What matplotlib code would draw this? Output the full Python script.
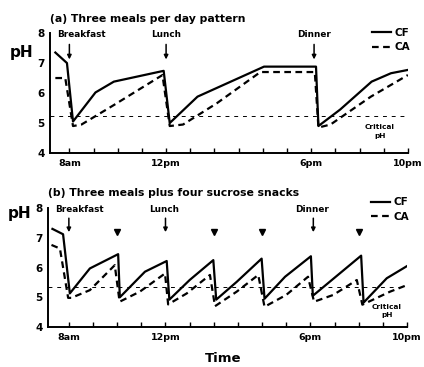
import numpy as np
import matplotlib
matplotlib.use("Agg")
import matplotlib.pyplot as plt

# (a) three meals per day
cf_a_hours = [7.42, 7.9, 8.15, 9.08, 9.84, 11.9, 12.15, 13.3, 16.05, 18.2, 18.3, 19.2, 20.5, 21.3, 22.0]
cf_a_ph = [7.35, 7.0, 5.05, 6.02, 6.38, 6.74, 5.0, 5.88, 6.88, 6.88, 4.9, 5.45, 6.38, 6.66, 6.77]
ca_a_hours = [7.42, 7.83, 8.15, 8.5, 9.84, 11.85, 12.15, 12.7, 14.1, 15.9, 18.15, 18.3, 18.8, 20.47, 22.0]
ca_a_ph = [6.5, 6.5, 4.9, 4.95, 5.6, 6.6, 4.9, 4.95, 5.66, 6.7, 6.7, 4.85, 4.95, 5.88, 6.6]
critical_a = 5.25

# (b) three meals plus four sucrose snacks
cf_b_hours = [7.32, 7.76, 8.04, 8.87, 10.04, 10.11, 11.15, 12.05, 12.16, 13.0, 13.98, 14.1,
              14.95, 15.98, 16.1, 16.95, 18.02, 18.1, 20.1, 20.2, 21.16, 22.0]
cf_b_ph = [7.3, 7.12, 5.13, 5.97, 6.45, 5.0, 5.86, 6.22, 4.92, 5.58, 6.25, 4.92,
           5.52, 6.3, 4.95, 5.69, 6.38, 5.05, 6.4, 4.82, 5.64, 6.05]
ca_b_hours = [7.28, 7.63, 7.97, 8.1, 8.87, 9.9, 10.1, 10.94, 11.98, 12.11, 12.88, 13.84, 14.05,
              14.95, 15.84, 16.1, 17.0, 17.9, 18.15, 18.95, 19.92, 20.15, 21.3, 22.0]
ca_b_ph = [6.76, 6.64, 4.98, 4.98, 5.24, 6.08, 4.85, 5.19, 5.8, 4.76, 5.13, 5.75, 4.7,
           5.19, 5.75, 4.68, 5.08, 5.69, 4.85, 5.08, 5.58, 4.75, 5.19, 5.41]
critical_b = 5.35
snack_hours = [10.0, 14.0, 16.0, 20.0]
snack_ph = 7.2

meal_names = ["Breakfast", "Lunch", "Dinner"]
meal_hours = [8.0, 12.0, 18.12]
tick_hours = [8, 12, 18, 22]
tick_names = ["8am", "12pm", "6pm", "10pm"]
ph_ticks = [4, 5, 6, 7, 8]

fig = plt.figure(figsize=(4.24, 3.67), dpi=100)
ax_a = fig.add_axes([0.118, 0.583, 0.844, 0.327])
ax_b = fig.add_axes([0.114, 0.109, 0.846, 0.324])

bold = dict(fontweight="bold")


def style_axes(ax, xmin):
    ax.set_xlim(xmin, 22)
    ax.set_ylim(4, 8)
    ax.spines["top"].set_visible(False)
    ax.spines["right"].set_visible(False)
    ax.spines["left"].set_linewidth(1.4)
    ax.spines["bottom"].set_linewidth(1.4)
    ax.set_xticks(tick_hours)
    ax.set_xticklabels(tick_names, fontsize=6.8, **bold)
    ax.set_xticks(np.arange(8, 23), minor=True)
    ax.tick_params(axis="x", which="both", direction="in", length=3.5, width=1.0, pad=4)
    ax.set_yticks(ph_ticks)
    ax.set_yticklabels([str(v) for v in ph_ticks], fontsize=7.5, **bold)
    ax.tick_params(axis="y", which="major", length=0, pad=4)
    ax.set_yticks([8], minor=True)
    ax.tick_params(axis="y", which="minor", direction="in", length=3, width=1.0)


def draw_meals(ax, text_x, arrow_top, arrow_bottom):
    for name, h, tx in zip(meal_names, meal_hours, text_x):
        ax.annotate("", xy=(h, arrow_bottom), xytext=(h, arrow_top),
                    arrowprops=dict(arrowstyle="-|>", color="k", lw=1.1, mutation_scale=6,
                                    shrinkA=0, shrinkB=0))
        ha = "left" if name == "Breakfast" else "center"
        ax.text(tx, 7.95, name, ha=ha, va="center", fontsize=6.4, **bold)


# panel (a)
ax_a.plot(cf_a_hours, cf_a_ph, color="k", lw=1.6, label="CF")
ax_a.plot(ca_a_hours, ca_a_ph, color="k", lw=1.6, linestyle=(0, (3, 2)), label="CA")
ax_a.axhline(critical_a, color="k", lw=0.7, linestyle=(0, (4, 5)))
style_axes(ax_a, 7.2)
draw_meals(ax_a, [7.5, 12.0, 18.12], 7.62, 7.12)
ax_a.text(20.85, 4.72, "Critical\npH", ha="center", va="center", fontsize=5.3,
          linespacing=1.5, **bold)
ax_a.set_title("(a) Three meals per day pattern", loc="left", fontsize=7.8, pad=8, **bold)
ax_a.text(-0.08, 0.84, "pH", transform=ax_a.transAxes, ha="center", va="center",
          fontsize=11, **bold)
ax_a.legend(loc="upper right", bbox_to_anchor=(1.005, 1.045), frameon=False,
            handlelength=1.8, handletextpad=0.3, labelspacing=0.45, borderpad=0,
            borderaxespad=0, prop=dict(size=7.5, weight="bold"))

# panel (b)
ax_b.plot(cf_b_hours, cf_b_ph, color="k", lw=1.6, label="CF")
ax_b.plot(ca_b_hours, ca_b_ph, color="k", lw=1.6, linestyle=(0, (3, 2)), label="CA")
ax_b.axhline(critical_b, color="k", lw=0.7, linestyle=(0, (4, 5)))
ax_b.plot(snack_hours, [snack_ph] * len(snack_hours), linestyle="none", marker="v",
          color="k", markersize=5)
style_axes(ax_b, 7.15)
draw_meals(ax_b, [7.45, 11.95, 18.05], 7.66, 7.19)
ax_b.text(21.17, 4.54, "Critical\npH", ha="center", va="center", fontsize=5.3,
          linespacing=1.5, **bold)
ax_b.set_title("(b) Three meals plus four sucrose snacks", loc="left", fontsize=7.8, pad=9, **bold)
ax_b.text(-0.08, 0.955, "pH", transform=ax_b.transAxes, ha="center", va="center",
          fontsize=11, **bold)
ax_b.legend(loc="upper right", bbox_to_anchor=(1.005, 1.09), frameon=False,
            handlelength=1.8, handletextpad=0.3, labelspacing=0.45, borderpad=0,
            borderaxespad=0, prop=dict(size=7.5, weight="bold"))

fig.text(223 / 424, 1 - 358 / 367, "Time", ha="center", va="center", fontsize=9.5, **bold)

fig.savefig("out.png", dpi=100)
